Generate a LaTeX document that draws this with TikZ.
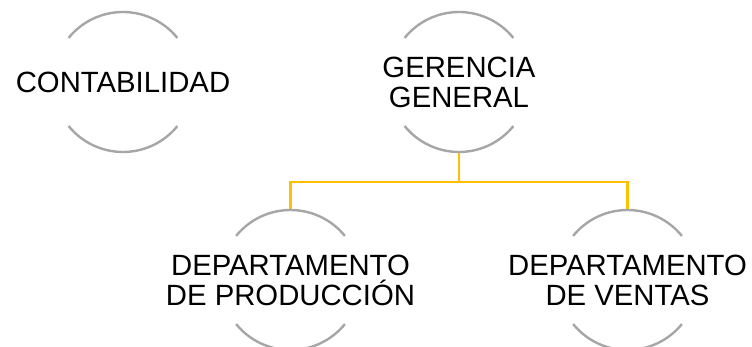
\documentclass[tikz,border=0pt]{standalone}
\usepackage{fontspec}
\setmainfont{Liberation Sans}
\definecolor{gris}{HTML}{A6A6A6}
\definecolor{oro}{HTML}{FFC000}
\begin{document}
\begin{tikzpicture}[
        x=1pt, y=1pt,
        level 1/.style = {level distance=198pt, sibling distance=337pt}, % Distancia entre niveles
        edge from parent/.style = {draw, oro, line width=2.4pt},
        edge from parent path = {([yshift=-70pt]\tikzparentnode.center) -- ++(0,-30pt) -| ([yshift=70pt]\tikzchildnode.center)},
        cell/.style={align=center, inner sep=0pt, font=\fontsize{29.3}{30}\selectfont}, % Estilo de nodos
        arco/.style={gris, line width=2.4pt},
    ]
    \useasboundingbox (0,0) rectangle (752,-347);

    \node[cell] (conta) at (123,-82) {CONTABILIDAD};
    \node[cell] (gerencia) at (459,-82) {GERENCIA\\GENERAL}
    child {node[cell] (prod) {DEPARTAMENTO\\DE PRODUCCIÓN}}
    child {node[cell] (ventas) {DEPARTAMENTO\\DE VENTAS}};

    % Arcos de cada circulo
    \foreach \n in {conta, gerencia, prod, ventas} {
        \draw[arco] ([shift={(39:70pt)}]\n.center) arc[start angle=39, end angle=141, radius=70pt];
        \draw[arco] ([shift={(219:70pt)}]\n.center) arc[start angle=219, end angle=321, radius=70pt];
    }
\end{tikzpicture}
\end{document}
